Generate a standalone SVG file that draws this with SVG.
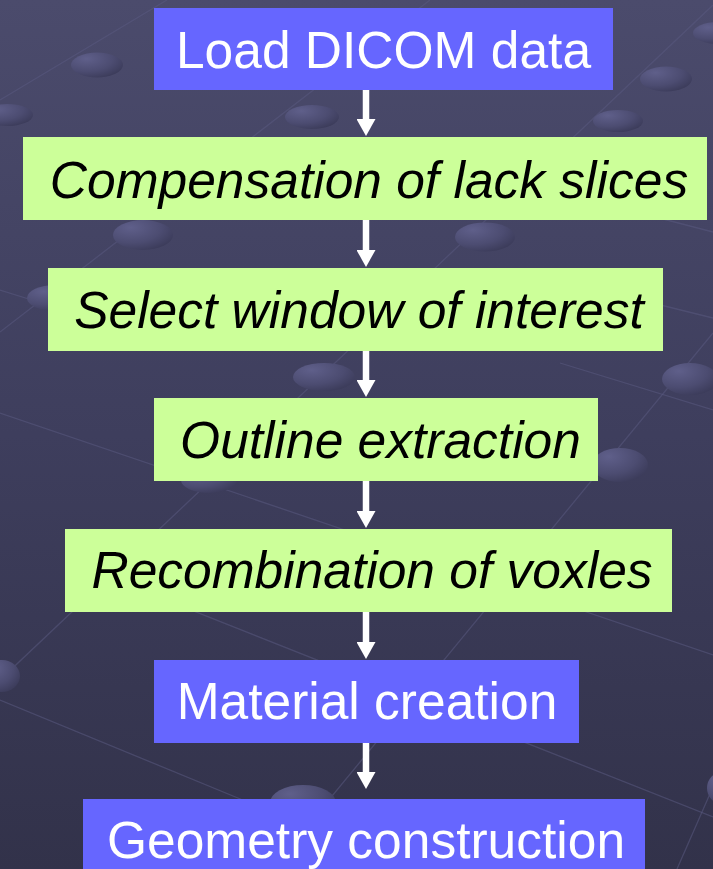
<svg xmlns="http://www.w3.org/2000/svg" width="713" height="869" viewBox="0 0 713 869">
  <defs>
    <linearGradient id="bg" x1="0" y1="0" x2="0" y2="1">
      <stop offset="0" stop-color="#4b4b6c"/>
      <stop offset="0.5" stop-color="#3e3e5d"/>
      <stop offset="1" stop-color="#32324a"/>
    </linearGradient>
    <radialGradient id="bump" cx="0.3" cy="0.25" r="0.85">
      <stop offset="0" stop-color="#5f5f8a"/>
      <stop offset="0.6" stop-color="#4c4c71"/>
      <stop offset="1" stop-color="#3a3a58"/>
    </radialGradient>
    <marker id="head" markerUnits="userSpaceOnUse" markerWidth="17" markerHeight="19" viewBox="0 -9.5 17 19" refX="0" refY="0" orient="auto">
      <path d="M0,-9.5 L17,0 L0,9.5 Z" fill="#ffffff"/>
    </marker>
    <style>
      .grid { stroke: #5a5a80; stroke-width: 1.3; fill: none; opacity: 0.55; }
      .bump { fill: url(#bump); }
      .blue { fill: #6666ff; }
      .green { fill: #ccff99; }
      .label { font-family: "Liberation Sans", Arial, sans-serif; font-size: 51.5px; text-anchor: middle; }
      .light { fill: #ffffff; }
      .dark { fill: #000000; font-style: italic; }
      .arrow { stroke: #ffffff; stroke-width: 6.5; fill: none; marker-end: url(#head); }
    </style>
  </defs>

  <!-- backdrop: shaded plane with a faint perspective grid and studs -->
  <g id="backdrop">
    <rect x="0" y="0" width="713" height="869" fill="url(#bg)"/>
    <line class="grid" x1="0" y1="100" x2="167" y2="0"/>
    <line class="grid" x1="0" y1="332" x2="430" y2="0"/>
    <line class="grid" x1="0" y1="680" x2="713" y2="5"/>
    <line class="grid" x1="713" y1="333" x2="272" y2="869"/>
    <line class="grid" x1="713" y1="787" x2="677" y2="869"/>
    <line class="grid" x1="0" y1="413" x2="713" y2="655"/>
    <line class="grid" x1="560" y1="363" x2="713" y2="410"/>
    <line class="grid" x1="600" y1="290" x2="713" y2="318"/>
    <line class="grid" x1="640" y1="213" x2="713" y2="232"/>
    <line class="grid" x1="65" y1="560" x2="713" y2="817"/>
    <line class="grid" x1="0" y1="700" x2="250" y2="803"/>
    <line class="grid" x1="0" y1="290" x2="48" y2="305"/>

    <ellipse class="bump" cx="97" cy="65" rx="26" ry="12.5"/>
    <ellipse class="bump" cx="7" cy="115" rx="26" ry="11"/>
    <ellipse class="bump" cx="312" cy="117" rx="27" ry="12"/>
    <ellipse class="bump" cx="618" cy="121" rx="25" ry="11"/>
    <ellipse class="bump" cx="666" cy="79" rx="26" ry="12.5"/>
    <ellipse class="bump" cx="718" cy="33" rx="25" ry="11"/>
    <ellipse class="bump" cx="143" cy="235" rx="30" ry="15"/>
    <ellipse class="bump" cx="485" cy="237" rx="30" ry="14.5"/>
    <ellipse class="bump" cx="55" cy="298" rx="28" ry="13"/>
    <ellipse class="bump" cx="324" cy="377" rx="31" ry="14"/>
    <ellipse class="bump" cx="690" cy="379" rx="28" ry="16"/>
    <ellipse class="bump" cx="620" cy="465" rx="28" ry="17"/>
    <ellipse class="bump" cx="209" cy="480" rx="28" ry="13"/>
    <ellipse class="bump" cx="2" cy="676" rx="18" ry="16"/>
    <ellipse class="bump" cx="303" cy="803" rx="33" ry="18"/>
    <ellipse class="bump" cx="722" cy="788" rx="15" ry="16"/>
  </g>

  <!-- connectors -->
  <g id="connectors">
    <line class="arrow" x1="366" y1="90" x2="366" y2="119"/>
    <line class="arrow" x1="366" y1="220" x2="366" y2="250"/>
    <line class="arrow" x1="366" y1="351" x2="366" y2="380"/>
    <line class="arrow" x1="366" y1="481" x2="366" y2="511"/>
    <line class="arrow" x1="366" y1="612" x2="366" y2="642"/>
    <line class="arrow" x1="366" y1="743" x2="366" y2="772"/>
  </g>

  <!-- process steps -->
  <g id="load-dicom">
    <rect class="blue" x="154" y="8" width="459" height="82"/>
    <text class="label light" x="383.5" y="68">Load DICOM data</text>
  </g>
  <g id="compensation">
    <rect class="green" x="23" y="137" width="684" height="83"/>
    <text class="label dark" x="369" y="198">Compensation of lack slices</text>
  </g>
  <g id="select-window">
    <rect class="green" x="48" y="268" width="615" height="83"/>
    <text class="label dark" x="359" y="328">Select window of interest</text>
  </g>
  <g id="outline">
    <rect class="green" x="154" y="398" width="444" height="83"/>
    <text class="label dark" x="380.5" y="458">Outline extraction</text>
  </g>
  <g id="recombination">
    <rect class="green" x="65" y="529" width="607" height="83"/>
    <text class="label dark" x="372" y="588">Recombination of voxles</text>
  </g>
  <g id="material">
    <rect class="blue" x="154" y="660" width="425" height="83"/>
    <text class="label light" x="367" y="719">Material creation</text>
  </g>
  <g id="geometry">
    <rect class="blue" x="83" y="799" width="562" height="83"/>
    <text class="label light" x="366" y="858">Geometry construction</text>
  </g>
</svg>
